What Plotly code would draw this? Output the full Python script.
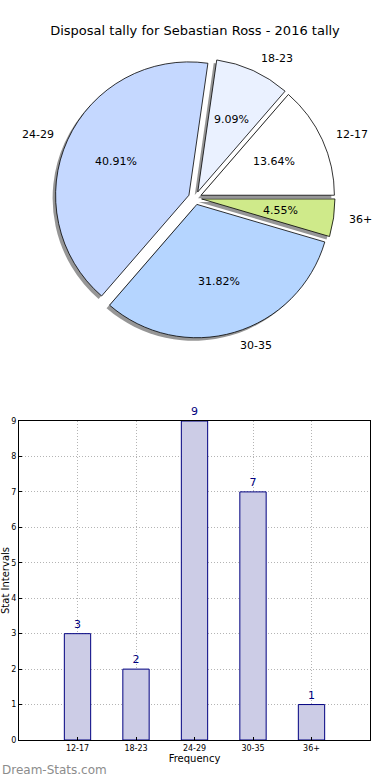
import math
import plotly.graph_objects as go

categories = ["12-17", "18-23", "24-29", "30-35", "36+"]
counts = [3, 2, 9, 7, 1]
pie_colors = ["#ffffff", "#eaf1ff", "#c5d8ff", "#b5d5ff", "#cfea8a"]
y_ticks = list(range(0, 10))

W, H = 390, 780
pull = 0.05
# pie domain in pixels (top, bottom)
pie_top, pie_bot = 58, 338

def py(v):
    return 1 - v / H

pie_dom_y = [py(pie_bot), py(pie_top)]
total = sum(counts)
# first slice starts at 3 o'clock going counterclockwise
rotation = 90 - 360 * counts[0] / total

fig = go.Figure()

# shadow pie
fig.add_trace(go.Pie(
    values=counts, labels=categories, sort=False, direction="counterclockwise",
    rotation=rotation, pull=[pull] * len(counts),
    marker=dict(colors=["rgba(80,80,80,0.6)"] * len(counts), line=dict(width=0)),
    textinfo="none", hoverinfo="skip", showlegend=False,
    domain=dict(x=[0, 1 - 6 / W], y=[pie_dom_y[0] - 3 / H, pie_dom_y[1] - 3 / H]),
))

# main pie
fig.add_trace(go.Pie(
    values=counts, labels=categories, sort=False, direction="counterclockwise",
    rotation=rotation, pull=[pull] * len(counts),
    marker=dict(colors=pie_colors, line=dict(color="#000000", width=0.8)),
    textinfo="none",
    showlegend=False,
    domain=dict(x=[0, 1], y=pie_dom_y),
))

# outer labels and percentages computed from data (matplotlib-style placement)
r_px = (pie_bot - pie_top) / (2 + 2 * pull)
cx, cy = W / 2, (pie_top + pie_bot) / 2
cum = 0
annotations = []
for lab, v in zip(categories, counts):
    mid = (cum + v / 2) / total * 2 * math.pi
    cum += v
    c, s = math.cos(mid), math.sin(mid)
    d = r_px * (1.1 + pull)
    annotations.append(dict(
        x=(cx + d * c) / W, y=py(cy - d * s), xref="paper", yref="paper",
        text=lab, showarrow=False,
        xanchor="left" if c >= 0 else "right", yanchor="middle",
        font=dict(family="DejaVu Sans", size=11, color="#000000"),
    ))
    dp = r_px * (0.6 + pull)
    annotations.append(dict(
        x=(cx + dp * c) / W, y=py(cy - dp * s), xref="paper", yref="paper",
        text=f"{100 * v / total:.2f}%", showarrow=False,
        xanchor="center", yanchor="middle",
        font=dict(family="DejaVu Sans", size=11, color="#000000"),
    ))

# bar chart
fig.add_trace(go.Bar(
    x=categories, y=counts, width=0.45,
    marker=dict(color="#ccccE6", line=dict(color="#000080", width=1)),
    text=[str(c) for c in counts], textposition="outside", cliponaxis=False,
    textfont=dict(family="DejaVu Sans", size=11, color="#000080"),
    showlegend=False, xaxis="x", yaxis="y",
))

fig.update_layout(
    width=W, height=H,
    margin=dict(l=0, r=0, t=0, b=0),
    paper_bgcolor="white", plot_bgcolor="white",
    font=dict(family="DejaVu Sans", color="#000000"),
    title=dict(text="Disposal tally for Sebastian Ross - 2016 tally",
               x=0.5, xanchor="center", y=py(30), yanchor="middle",
               font=dict(family="DejaVu Sans", size=13, color="#000000")),
    xaxis=dict(domain=[19 / W, 370 / W], anchor="y", type="category",
               range=[-1, 5], showgrid=True, gridcolor="#b4b4b4", griddash="1px,2px",
               gridwidth=1, showline=True, mirror=True, linecolor="#000000",
               linewidth=1, ticks="inside", ticklen=3, tickcolor="#000000",
               tickfont=dict(size=8, family="DejaVu Sans"),
               title=dict(text="Frequency", font=dict(size=10, family="DejaVu Sans"), standoff=2),
               zeroline=False, fixedrange=True, automargin=False),
    yaxis=dict(domain=[py(740), py(421)], anchor="x", range=[0, 9],
               tickvals=y_ticks, showgrid=True, gridcolor="#b4b4b4", griddash="1px,2px",
               gridwidth=1, showline=True, mirror=True, linecolor="#000000",
               linewidth=1, ticks="inside", ticklen=3, tickcolor="#000000",
               tickfont=dict(size=8, family="DejaVu Sans"),
               title=dict(text="Stat Intervals", font=dict(size=10, family="DejaVu Sans"), standoff=2),
               zeroline=False, fixedrange=True, automargin=False),
    annotations=annotations + [dict(
        x=0, y=py(770), xref="paper", yref="paper", text="Dream-Stats.com",
        showarrow=False, xanchor="left", yanchor="middle",
        font=dict(family="DejaVu Sans", size=12, color="#8c8c8c"),
    )],
    bargap=0.5,
)

fig.write_html("out.html", config={"displayModeBar": False},
               post_script="document.body.style.margin='0px';")
